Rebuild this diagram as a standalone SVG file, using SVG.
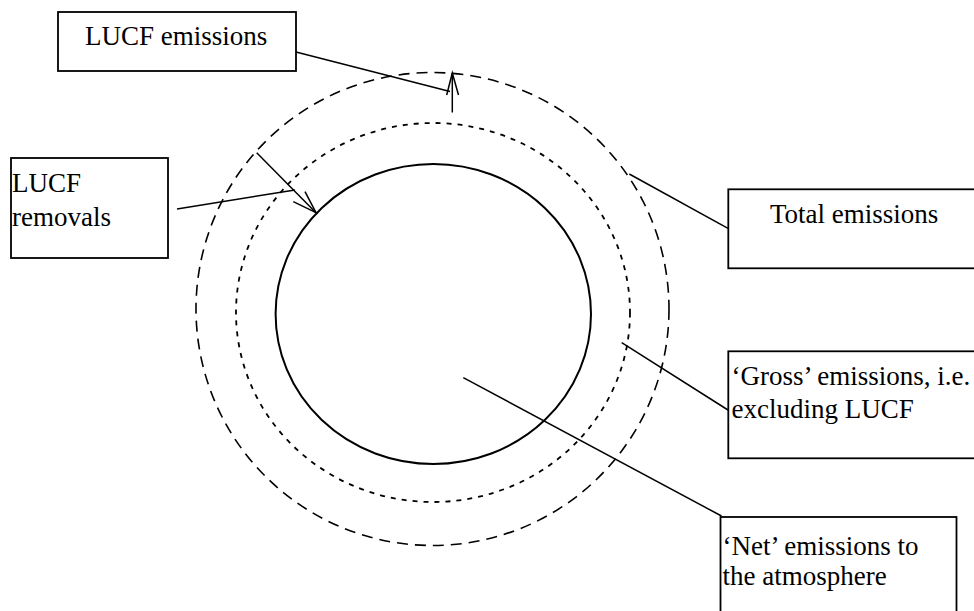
<svg xmlns="http://www.w3.org/2000/svg" width="974" height="611" viewBox="0 0 974 611">
<style>
  .box { fill: #fff; stroke: #000; stroke-width: 1.8; }
  .lbl { font-family: 'Liberation Serif', Tinos, 'Times New Roman', 'DejaVu Serif', serif; font-size: 27px; fill: #000; }
  .ln { stroke: #000; stroke-width: 1.5; fill: none; }
  .outer { fill: none; stroke: #000; stroke-width: 1.6; stroke-dasharray: 11 7; }
  .mid { fill: none; stroke: #000; stroke-width: 1.8; stroke-dasharray: 5 6; }
  .inner { fill: none; stroke: #000; stroke-width: 2; }
</style>
<rect width="974" height="611" fill="#fff"/>
<g id="rings">
  <ellipse class="outer" cx="432.5" cy="309" rx="236.5" ry="236.5"/>
  <ellipse class="mid" cx="433" cy="312.5" rx="197" ry="189.5"/>
  <ellipse class="inner" cx="433.3" cy="314" rx="157.7" ry="150"/>
</g>
<g id="connectors">
  <line class="ln" x1="296" y1="52" x2="450" y2="91.5"/>
  <line class="ln" x1="452.3" y1="112.5" x2="452.3" y2="73"/>
  <polyline class="ln" points="446.7,95 452.3,73 458.5,95"/>
  <line class="ln" x1="177" y1="209" x2="295" y2="190"/>
  <line class="ln" x1="256.7" y1="152.7" x2="316" y2="212.7"/>
  <polyline class="ln" points="305,191.7 316,212.7 293.3,201.7"/>
  <line class="ln" x1="629.3" y1="174" x2="728" y2="228.3"/>
  <line class="ln" x1="621.7" y1="342.7" x2="728" y2="410"/>
  <line class="ln" x1="463.3" y1="377.7" x2="721.5" y2="516"/>
</g>
<g id="lucf-emissions">
  <rect class="box" x="58" y="12" width="238" height="59"/>
  <text class="lbl" font-family="Liberation Serif, serif" x="85" y="45">LUCF emissions</text>
</g>
<g id="lucf-removals">
  <rect class="box" x="11" y="158" width="157" height="100"/>
  <text class="lbl" x="12" y="192">LUCF</text>
  <text class="lbl" x="12" y="226">removals</text>
</g>
<g id="total-emissions">
  <rect class="box" x="728.3" y="189.3" width="260" height="79"/>
  <text class="lbl" x="770" y="223">Total emissions</text>
</g>
<g id="gross-emissions">
  <rect class="box" x="728.3" y="351.3" width="260" height="107"/>
  <text class="lbl" x="731.5" y="385">‘Gross’ emissions, i.e.</text>
  <text class="lbl" x="731.5" y="418.3">excluding LUCF</text>
</g>
<g id="net-emissions">
  <rect class="box" x="720.5" y="517" width="236" height="110"/>
  <text class="lbl" x="722.5" y="555">‘Net’ emissions to</text>
  <text class="lbl" x="722.5" y="585">the atmosphere</text>
</g>
</svg>
